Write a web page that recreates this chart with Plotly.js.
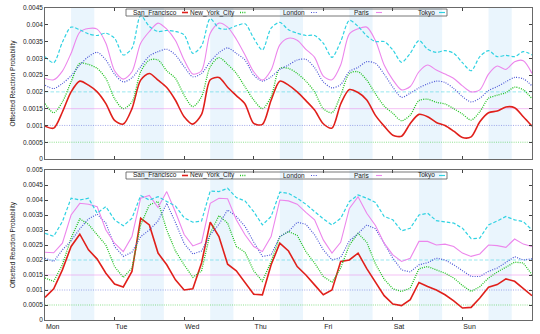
<!DOCTYPE html>
<html><head><meta charset="utf-8">
<script src="https://cdn.plot.ly/plotly-3.0.1.min.js"></script>
<style>html,body{margin:0;padding:0;background:#fff}#chart{width:540px;height:334px}</style>
</head><body><div id="chart"></div>
<script>
// hours since Monday 00:00
const hours = [0,3,6,9,12,15,18,21,24,27,30,33,36,39,42,45,48,51,54,57,60,63,66,69,72,75,78,81,84,87,90,93,96,99,102,105,108,111,114,117,120,123,126,129,132,135,138,141,144,147,150,153,156,159,162,165,168];

const cities = ["San_Francisco","New_York_City","London","Paris","Tokyo"];
const offsets = [0, 0.0005, 0.001, 0.0015, 0.002];

// values in units of 0.001 (offsetted reaction probability)
// top panel (smoothed)
const topSF = [0.98,0.92,1.4,2.0,2.32,2.2,2.0,1.65,1.15,1.04,1.5,2.35,2.55,2.35,2.13,1.75,1.26,1.04,1.33,2.36,2.43,2.14,1.89,1.64,1.06,1.03,1.75,2.32,2.2,2.0,1.74,1.46,1.05,0.92,1.64,2.07,1.98,1.76,1.3,0.98,0.71,0.68,1.06,1.33,1.26,1.09,1.0,0.83,0.64,0.66,1.11,1.38,1.43,1.55,1.53,1.26,0.98];
const topNYC = [1.65,1.38,1.7,2.3,2.85,2.82,2.7,2.4,1.8,1.5,1.7,2.6,2.95,2.95,2.63,2.4,1.9,1.56,1.86,2.75,3.02,2.82,2.55,2.15,1.76,1.5,1.86,2.7,2.7,2.55,2.32,2.0,1.5,1.38,1.9,2.55,2.6,2.35,1.94,1.58,1.36,1.14,1.31,1.74,1.78,1.69,1.64,1.5,1.34,1.16,1.41,1.81,1.9,1.98,2.14,2.06,1.8];
const topLON = [2.2,2.1,2.25,2.48,2.8,3.05,3.18,2.95,2.53,2.3,2.42,2.75,3.07,3.2,3.27,3.1,2.75,2.45,2.55,2.9,3.17,3.31,3.15,2.95,2.5,2.32,2.45,2.67,2.8,2.95,2.97,2.72,2.3,2.12,2.22,2.61,2.73,2.9,2.85,2.53,2.14,1.84,1.96,2.12,2.24,2.32,2.28,2.1,1.86,1.7,1.81,2.04,2.16,2.3,2.43,2.39,2.18];
const topPAR = [2.4,2.36,2.62,3.15,3.78,3.89,3.87,3.45,2.63,2.38,2.6,3.45,3.8,4.05,3.87,3.53,2.95,2.53,2.63,3.75,4.05,3.93,3.57,3.1,2.6,2.35,2.65,3.4,3.6,3.54,3.27,3.03,2.47,2.36,2.8,3.73,3.88,3.93,3.53,2.8,2.36,2.06,2.16,2.6,2.8,2.65,2.53,2.4,2.18,2.0,2.06,2.53,2.77,2.67,2.9,2.93,2.55];
const topTOK = [3.05,2.87,3.48,3.93,3.85,3.73,3.68,3.75,3.6,3.1,3.3,4.27,3.95,3.8,3.83,3.8,3.7,3.15,3.37,4.18,3.9,3.87,3.97,4.03,3.6,3.25,3.9,4.07,3.85,3.75,3.68,3.68,3.45,3.03,3.5,4.13,3.95,3.67,3.5,3.5,3.25,2.88,3.15,3.53,3.27,3.18,3.23,3.15,2.87,2.63,3.05,3.23,3.05,3.09,3.05,3.2,3.1];

// bottom panel (raw)
const botSF = [0.75,1.04,1.67,2.45,2.86,2.34,2.03,1.56,1.2,1.1,1.62,3.39,3.17,2.23,1.84,1.34,1.0,1.04,1.9,3.26,2.78,1.86,1.64,1.23,0.86,0.84,1.84,2.56,2.3,1.78,1.5,1.17,0.84,1.0,1.95,2.0,2.23,1.71,1.26,0.81,0.53,0.48,0.68,1.25,1.12,1.0,0.84,0.64,0.4,0.42,0.73,1.09,1.18,1.37,1.29,1.04,0.81];
const botNYC = [1.4,1.29,1.84,2.73,3.37,3.19,2.84,2.5,1.78,1.42,1.73,3.17,3.84,3.95,3.0,2.3,1.84,1.42,1.64,2.89,3.48,3.23,2.45,2.26,1.64,1.29,1.95,2.78,2.95,2.82,2.28,1.9,1.45,1.26,1.73,2.5,2.89,2.59,1.87,1.36,1.04,0.95,1.06,1.71,1.78,1.66,1.56,1.4,1.15,0.95,1.11,1.4,1.6,1.76,1.93,1.9,1.51];
const botLON = [2.06,1.95,2.34,2.64,3.04,3.37,3.53,3.23,2.45,2.12,2.26,2.78,3.0,3.3,3.89,3.25,2.55,2.2,2.3,2.84,3.19,3.67,3.45,3.12,2.6,2.12,2.17,2.78,2.95,3.26,3.19,2.84,2.34,2.0,2.08,2.64,2.88,3.17,3.04,2.56,2.06,1.67,1.6,1.84,1.91,2.06,2.0,1.84,1.64,1.45,1.45,1.62,1.73,1.92,2.11,2.0,2.04];
const botPAR = [2.26,2.24,2.56,3.5,3.89,3.86,3.78,3.0,2.56,2.28,2.78,4.06,4.15,3.75,4.28,3.6,2.85,2.47,2.58,3.89,4.06,4.04,3.34,2.84,2.45,2.28,2.78,4.0,3.97,3.86,3.59,3.34,2.67,2.23,2.59,3.72,4.11,3.56,3.15,2.56,2.17,1.95,2.06,2.62,2.62,2.5,2.53,2.45,2.23,2.12,2.2,2.5,2.48,2.42,2.7,2.53,2.45];
const botTOK = [2.89,2.79,3.28,4.06,4.0,4.06,3.56,3.78,3.34,3.14,3.39,4.15,4.0,4.11,3.95,3.8,3.41,3.26,3.3,4.3,4.28,4.39,4.08,3.97,3.61,3.17,3.45,4.26,4.22,4.06,3.86,3.61,3.37,3.17,3.39,3.95,4.17,4.06,3.92,3.45,3.34,2.97,3.06,3.5,3.56,3.31,3.28,3.23,3.06,2.71,2.73,3.17,3.3,3.45,3.34,3.28,3.0];

const dayTicks = [0,24,48,72,96,120,144,168];
const dayLabels = ["Mon","Tue","Wed","Thu","Fri","Sat","Sun",""];
const workStart = [9,33,57,81,105,129,153];
const workEnd = [17,41,65,89,113,137,161];
const yTickTop = [0,0.0005,0.001,0.0015,0.002,0.0025,0.003,0.0035,0.004,0.0045];
const yLabelTop = ["0","0.0005","0.001","0.0015","0.002","0.0025","0.003","0.0035","0.004","0.0045"];
const yTickBot = [0,0.0005,0.001,0.0015,0.002,0.0025,0.003,0.0035,0.004,0.0045,0.005];
const yLabelBot = ["0","0.0005","0.001","0.0015","0.002","0.0025","0.003","0.0035","0.004","0.0045","0.005"];

// styles
const colors = ["#e0201b","#22c322","#4b56d6","#ec86ec","#2fd2e2"];
const dashes = ["solid","1px,1.2px","1px,1.4px","solid","3.5px,2px"];
const widths = [1.6,1.3,1.2,1.1,1.2];

const topSeries = [topSF, topNYC, topLON, topPAR, topTOK];
const botSeries = [botSF, botNYC, botLON, botPAR, botTOK];
const FONT = "Liberation Sans, Arial, sans-serif";

const traces = [];
[["x","y",topSeries,"spline"],["x2","y2",botSeries,"linear"]].forEach(([xa,ya,series,shape]) => {
  // offset reference lines
  offsets.forEach((o,i) => {
    if (o === 0) return;
    traces.push({x:[0,168], y:[o,o], xaxis:xa, yaxis:ya, mode:"lines", showlegend:false, hoverinfo:"skip",
      line:{color:colors[i], width:1, dash:dashes[i]}, opacity:0.5});
  });
  series.forEach((s,i) => {
    traces.push({x:hours, y:s.map(v => v/1000), xaxis:xa, yaxis:ya, mode:"lines", name:cities[i], showlegend:false,
      line:{color:colors[i], width:widths[i], dash:dashes[i], shape:shape, smoothing:0.8}});
  });
});

const shapes = [];
const annotations = [];
[["x","y"],["x2","y2"]].forEach(([xa,ya]) => {
  workStart.forEach((s,i) => {
    shapes.push({type:"rect", xref:xa, yref:ya+" domain", x0:s, x1:workEnd[i], y0:0, y1:1,
      fillcolor:"#eaf5fd", line:{width:0}, layer:"below"});
  });
});

// gnuplot-style keys (text then a short sample)
const PW = 540, PH = 334;
const keyTextRight = [179,237,307,372,437];
const keySample = [[182,188],[240,246],[311,317],[376,382],[439,445]];
[[9,16],[172,179]].forEach(([top,bot]) => {
  shapes.push({type:"rect", xref:"paper", yref:"paper", x0:126/PW, x1:447/PW, y0:1-bot/PH, y1:1-top/PH,
    line:{color:"#555", width:0.8}, fillcolor:"rgba(0,0,0,0)"});
  const yc = 1-(top+bot)/2/PH;
  cities.forEach((c,i) => {
    annotations.push({xref:"paper", yref:"paper", x:keyTextRight[i]/PW, y:yc, xanchor:"right", yanchor:"middle",
      text:c, showarrow:false, font:{family:FONT, size:6.5, color:"#222"}});
    shapes.push({type:"line", xref:"paper", yref:"paper", x0:keySample[i][0]/PW, x1:keySample[i][1]/PW, y0:yc, y1:yc,
      line:{color:colors[i], width:widths[i], dash: i===4 ? "solid" : dashes[i]}});
  });
});

const axBase = {showline:true, linecolor:"#444", linewidth:0.8, mirror:"ticks", ticks:"inside", ticklen:3,
  tickcolor:"#444", showgrid:false, zeroline:false, tickfont:{family:FONT, size:6.5, color:"#222"}};

const layout = {
  width:540, height:334, margin:{l:0,r:0,t:0,b:0}, paper_bgcolor:"#fff", plot_bgcolor:"#fff",
  showlegend:false, font:{family:FONT, size:6.5, color:"#222"},
  xaxis: Object.assign({}, axBase, {domain:[45/PW, 532/PW], range:[0,168], anchor:"y",
    tickmode:"array", tickvals:dayTicks, showticklabels:false}),
  yaxis: Object.assign({}, axBase, {domain:[1-159/PH, 1-8/PH], range:[0,0.0045], anchor:"x",
    tickmode:"array", tickvals:yTickTop, ticktext:yLabelTop,
    title:{text:"Offsetted Reaction Probability", font:{family:FONT, size:6.5, color:"#222"}, standoff:6}}),
  xaxis2: Object.assign({}, axBase, {domain:[45/PW, 532/PW], range:[0,168], anchor:"y2",
    tickmode:"array", tickvals:dayTicks, ticktext:dayLabels, ticklabelposition:"outside right",
    tickfont:{family:FONT, size:7, color:"#222"}}),
  yaxis2: Object.assign({}, axBase, {domain:[1-320/PH, 1-170/PH], range:[0,0.005], anchor:"x2",
    tickmode:"array", tickvals:yTickBot, ticktext:yLabelBot,
    title:{text:"Offsetted Reaction Probability", font:{family:FONT, size:6.5, color:"#222"}, standoff:6}}),
  shapes: shapes, annotations: annotations
};

Plotly.newPlot("chart", traces, layout, {staticPlot:true, displayModeBar:false});
</script></body></html>
